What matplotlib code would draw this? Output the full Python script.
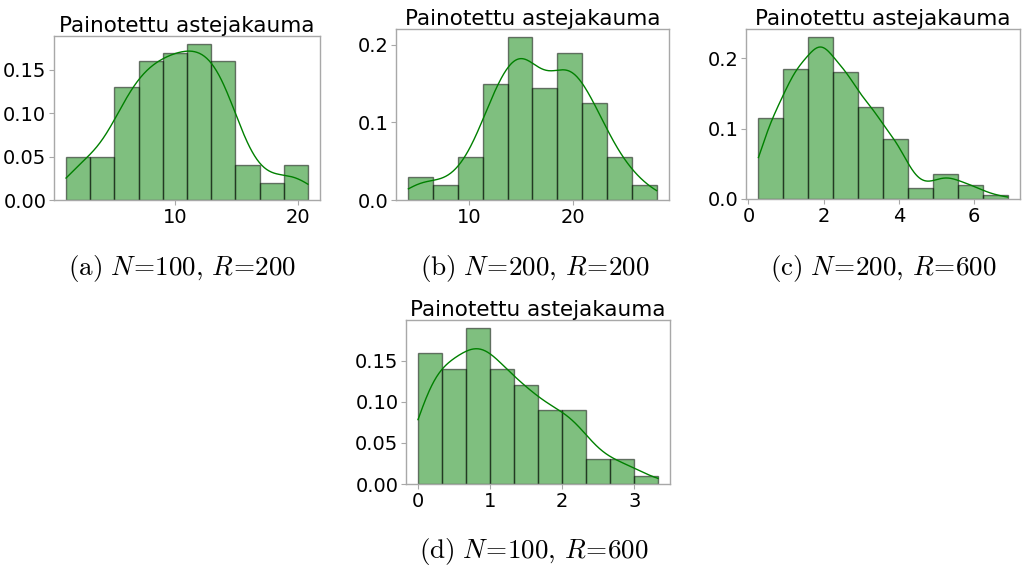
import numpy as np
import matplotlib
matplotlib.use("Agg")
import matplotlib.pyplot as plt
from matplotlib.ticker import MultipleLocator

plt.rcParams["mathtext.fontset"] = "cm"

# data range (min, max) and bin probabilities of each weighted degree distribution
range_a = (1.07, 20.82)
probs_a = [0.05, 0.05, 0.13, 0.16, 0.17, 0.18, 0.16, 0.04, 0.02, 0.04]

range_b = (4.09, 28.13)
probs_b = [0.03, 0.02, 0.055, 0.15, 0.21, 0.145, 0.19, 0.125, 0.055, 0.02]

range_c = (0.265, 6.894)
probs_c = [0.115, 0.185, 0.23, 0.18, 0.13, 0.085, 0.015, 0.035, 0.02, 0.005]

range_d = (0.0, 3.33)
probs_d = [0.16, 0.14, 0.19, 0.14, 0.12, 0.09, 0.09, 0.03, 0.03, 0.01]

n_bins = 10
title = "Painotettu astejakauma"
captions = [
    r"$\mathrm{(a)}\ N\!=\!100,\,R\!=\!200$",
    r"$\mathrm{(b)}\ N\!=\!200,\,R\!=\!200$",
    r"$\mathrm{(c)}\ N\!=\!200,\,R\!=\!600$",
    r"$\mathrm{(d)}\ N\!=\!100,\,R\!=\!600$",
]

panels = [
    # (range, probs, kde bandwidth, x tick step, y tick step, axes rect, caption xy)
    (range_a, probs_a, 1.6, 10, 0.05, [0.0527, 0.6503, 0.2598, 0.2867], (0.178, 0.531)),
    (range_b, probs_b, 1.7, 10, 0.1, [0.3867, 0.6503, 0.2666, 0.2990], (0.522, 0.531)),
    (range_c, probs_c, 0.38, 2, 0.1, [0.7285, 0.6521, 0.2676, 0.2972], (0.863, 0.531)),
    (range_d, probs_d, 0.27, 1, 0.05, [0.3965, 0.1538, 0.2578, 0.2867], (0.521, 0.036)),
]

green = "green"
spine_gray = "#a8a8a8"

fig = plt.figure(figsize=(10.24, 5.72), dpi=100)

for (rng, probs, bw, xstep, ystep, rect, cap_xy), caption in zip(panels, captions):
    ax = fig.add_axes(rect)
    edges = np.linspace(rng[0], rng[1], n_bins + 1)
    centers = 0.5 * (edges[:-1] + edges[1:])
    width = edges[1] - edges[0]

    ax.hist(centers, bins=edges, weights=probs, color=green, alpha=0.5,
            edgecolor="black", linewidth=1.0)

    # Gaussian kernel density of the weighted distribution, scaled to bin probability
    xs = np.linspace(rng[0], rng[1], 300)
    w = np.asarray(probs)
    dens = (w[None, :] * np.exp(-0.5 * ((xs[:, None] - centers[None, :]) / bw) ** 2)).sum(axis=1)
    dens /= bw * np.sqrt(2 * np.pi) * w.sum()
    ax.plot(xs, dens * width, color=green, linewidth=1.0)

    ax.set_title(title, fontsize=15.5, pad=1)
    ax.xaxis.set_major_locator(MultipleLocator(xstep))
    ax.yaxis.set_major_locator(MultipleLocator(ystep))
    ax.tick_params(labelsize=14, length=3.5, width=0.8, color=spine_gray, pad=2)
    for s in ax.spines.values():
        s.set_color(spine_gray)
        s.set_linewidth(1.0)

    fig.text(cap_xy[0], cap_xy[1], caption, fontsize=19.5,
             ha="center", va="center", transform=fig.transFigure)

fig.savefig("out.png", dpi=100)
